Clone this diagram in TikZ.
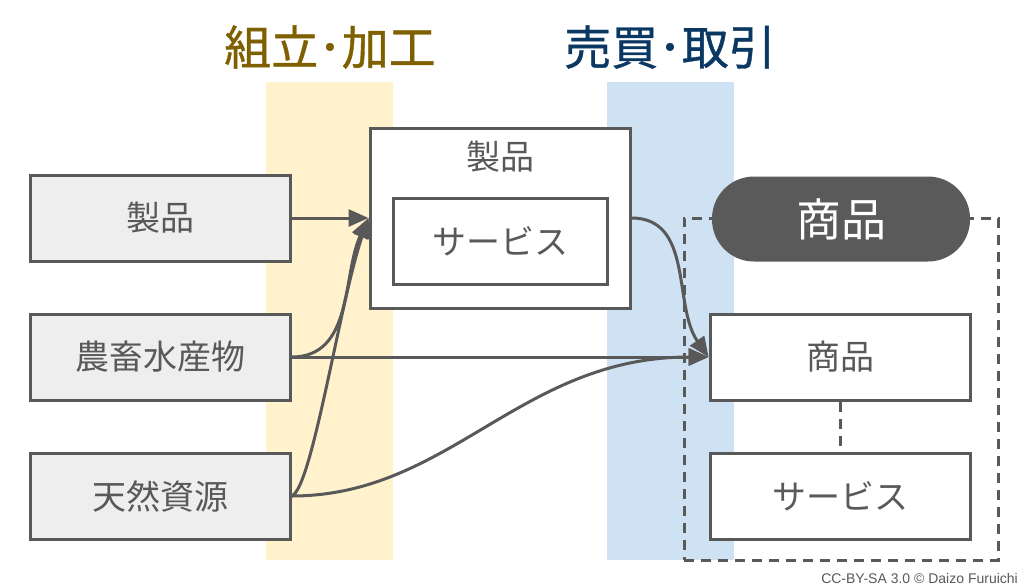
\documentclass[tikz,border=0pt]{standalone}
\usepackage{fontspec}
\setmainfont{Liberation Sans}
\newfontfamily\cjk{Noto Sans CJK JP}
\newfontfamily\cjkb[FakeBold=0.8]{Noto Sans CJK JP}
\usetikzlibrary{arrows.meta}
\definecolor{ln}{HTML}{595959}
\definecolor{boxfill}{HTML}{EEEEEE}
\definecolor{yband}{HTML}{FFF2CC}
\definecolor{bband}{HTML}{CFE2F3}
\definecolor{ytitle}{HTML}{7F6000}
\definecolor{btitle}{HTML}{0B3763}
\definecolor{pillfill}{HTML}{5A5A5A}
\tikzset{
  box/.style={draw=ln, line width=3pt, rectangle, minimum width=260pt, minimum height=86pt, inner sep=0pt, font=\cjk\fontsize{34}{34}\selectfont, text=ln},
  graybox/.style={box, fill=boxfill},
  whitebox/.style={box, fill=white},
  conn/.style={draw=ln, line width=3pt, -{Triangle[length=20pt,width=17pt]}},
  title/.style={font=\cjkb\fontsize{47}{47}\selectfont}
}
\begin{document}
\begin{tikzpicture}[x=1pt,y=-1pt]
\useasboundingbox (0,0) rectangle (1024,587);
\fill[white] (0,0) rectangle (1024,587);
% bands
\fill[yband] (266,82) rectangle (393,560);
\fill[bband] (607,82) rectangle (734,560);
% titles
\node[title, text=ytitle] (t1) at (330,47) {組立･加工};
\node[title, text=btitle] (t2) at (670,47) {売買･取引};
% left boxes
\node[graybox] (p1) at (160,218) {製品};
\node[graybox] (p2) at (160,357) {農畜水産物};
\node[graybox] (p3) at (160,496) {天然資源};
% center product box
\node[whitebox, minimum height=180pt] (prod) at (500,218) {};
\node[font=\cjk\fontsize{34}{34}\selectfont, text=ln] (prodlbl) at (500,157) {製品};
\node[whitebox, minimum width=214pt] (serv) at (500,241) {サービス};
% container
\node[draw=ln, line width=3pt, dash pattern=on 10pt off 7pt, minimum width=314pt, minimum height=342pt, inner sep=0pt] (cont) at (841,389) {};
\node[fill=pillfill, rounded corners=42pt, minimum width=258pt, minimum height=85pt, inner sep=0pt, text=white, font=\cjk\fontsize{45}{45}\selectfont] (pill) at (841,219) {商品};
\node[whitebox] (s1) at (840,357) {商品};
\node[whitebox] (s2) at (840,496) {サービス};
\draw[draw=ln, line width=3pt, dash pattern=on 10pt off 7pt] (s1.south) -- (s2.north);
% connectors
\draw[conn] (p1.east) -- (prod.west);
\draw[conn] (p2.east) to[out=0, in=245] (prod.west);
\draw[conn] (p3.east) .. controls (312,490) and (340,300) .. (prod.west);
\draw[conn] (p2.east) -- (s1.west);
\draw[conn] (p3.east) .. controls (450,496) and (520,357) .. (s1.west);
\draw[conn] (prod.east) to[out=0, in=125] (s1.west);
% credit
\node[anchor=south east, inner sep=0pt, text=ln, font=\fontsize{14}{14}\selectfont] (cr) at (1018,584) {CC-BY-SA 3.0 © Daizo Furuichi};
\end{tikzpicture}
\end{document}
